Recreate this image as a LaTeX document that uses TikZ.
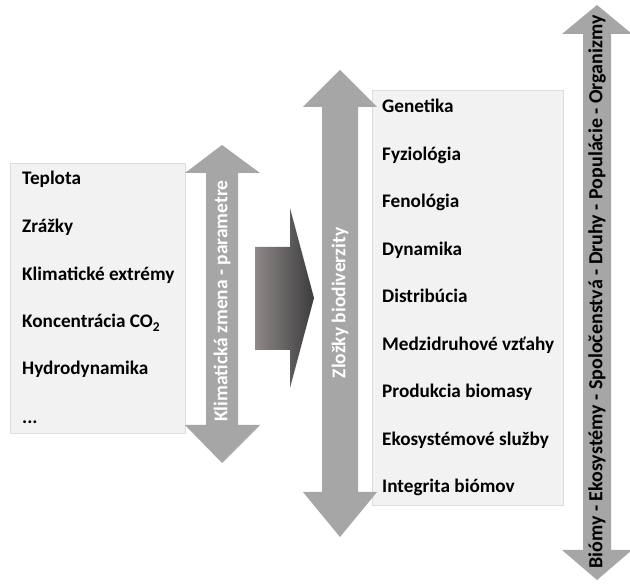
\documentclass[tikz,border=0pt]{standalone}
\usepackage{fontspec}
\setmainfont{Carlito}
\definecolor{boxgray}{HTML}{F2F2F2}
\definecolor{boxline}{HTML}{DDDDDD}
\definecolor{arrowgray}{HTML}{A6A6A6}
\definecolor{gradl}{HTML}{8E8888}
\definecolor{gradr}{HTML}{3C3C3C}
\begin{document}
\begin{tikzpicture}[x=1pt,y=-1pt,
  box/.style={fill=boxgray, draw=boxline, line width=0.8pt},
  item/.style={anchor=base west, font=\bfseries\fontsize{19.2}{22}\selectfont, text=black, inner sep=0pt},
  dblarrow/.style={fill=arrowgray, draw=none},
  lbl/.style={rotate=90, font=\bfseries\fontsize{19.5}{22}\selectfont, inner sep=0pt, text=white}
]
\useasboundingbox (0,0) rectangle (630,585);
\fill[white] (0,0) rectangle (630,585);

% boxes
\draw[box] (10,163) rectangle (185,433);
\draw[box] (372,90) rectangle (563,505);

% left double arrow
\fill[dblarrow] (222,145) -- (260,173) -- (238,173) -- (238,425) -- (260,425) -- (222,463)
  -- (185,425) -- (206,425) -- (206,173) -- (185,173) -- cycle;
% middle double arrow
\fill[dblarrow] (340,70) -- (377,107) -- (358,107) -- (358,492) -- (377,492) -- (340,537)
  -- (303,492) -- (322,492) -- (322,107) -- (303,107) -- cycle;
% right double arrow
\fill[dblarrow] (597,5) -- (632,34) -- (611,34) -- (611,550) -- (632,550) -- (597,580)
  -- (562,550) -- (583,550) -- (583,34) -- (562,34) -- cycle;

% big gradient arrow
\shade[left color=gradl, right color=gradr] (255,247) -- (290,247) -- (290,208) -- (314,298)
  -- (290,388) -- (290,350) -- (255,350) -- cycle;

% left items
\node[item] (t1) at (22,185) {Teplota};
\node[item] (t2) at (22,233) {Zrážky};
\node[item] (t3) at (22,281) {Klimatické extrémy};
\node[item] (t4) at (22,328) {Koncentrácia CO\textsubscript{2}};
\node[item] (t5) at (22,375) {Hydrodynamika};
\node[item] (t6) at (22,424) {...};

% right items
\node[item] (r1) at (382,113) {Genetika};
\node[item] (r2) at (382,160.5) {Fyziológia};
\node[item] (r3) at (382,208) {Fenológia};
\node[item] (r4) at (382,255.5) {Dynamika};
\node[item] (r5) at (382,303) {Distribúcia};
\node[item] (r6) at (382,350.5) {Medzidruhové vzťahy};
\node[item] (r7) at (382,398) {Produkcia biomasy};
\node[item] (r8) at (382,445.5) {Ekosystémové služby};
\node[item] (r9) at (382,493) {Integrita biómov};

% arrow labels
\node[lbl] (la) at (222,301) {Klimatická zmena - parametre};
\node[lbl] (lb) at (340,303) {Zložky biodiverzity};
\node[lbl, text=black, font=\bfseries\fontsize{20}{22}\selectfont] (lc) at (597,292) {Biómy - Ekosystémy - Spoločenstvá - Druhy - Populácie - Organizmy};
\end{tikzpicture}
\end{document}
